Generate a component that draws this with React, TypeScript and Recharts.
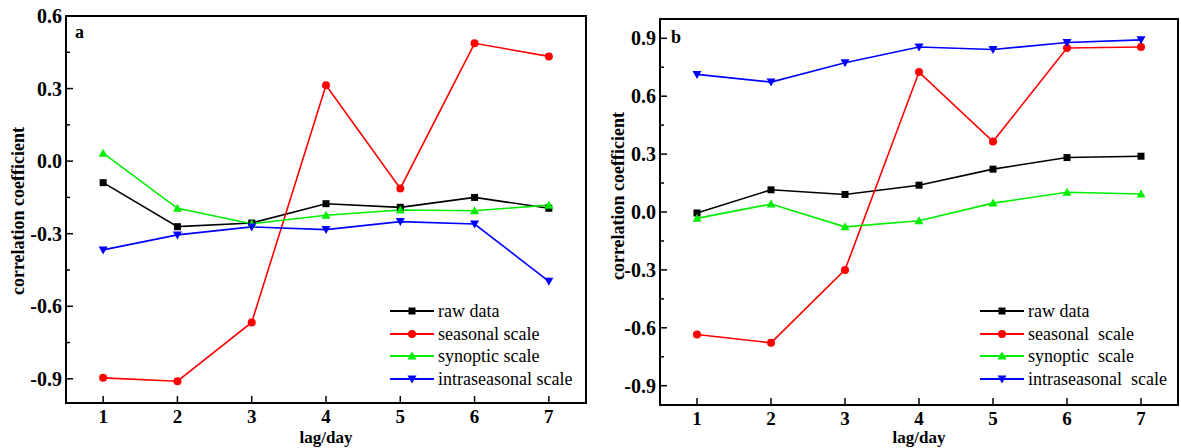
import { LineChart, Line, XAxis, YAxis, ReferenceArea, Legend } from 'recharts'

const FONT = "'Times New Roman', 'Liberation Serif', serif"

// lag in days
const lags = [1, 2, 3, 4, 5, 6, 7]

// panel a
const rawA = [-0.089, -0.271, -0.256, -0.176, -0.191, -0.15, -0.195]
const seasonalA = [-0.896, -0.91, -0.667, 0.314, -0.113, 0.487, 0.433]
const synopticA = [0.033, -0.195, -0.259, -0.224, -0.202, -0.205, -0.182]
const intraA = [-0.367, -0.305, -0.272, -0.283, -0.25, -0.26, -0.497]

// panel b
const rawB = [-0.005, 0.115, 0.091, 0.139, 0.222, 0.282, 0.289]
const seasonalB = [-0.635, -0.678, -0.3, 0.725, 0.365, 0.85, 0.855]
const synopticB = [-0.033, 0.041, -0.077, -0.045, 0.046, 0.102, 0.093]
const intraB = [0.713, 0.673, 0.773, 0.855, 0.842, 0.878, 0.892]

// y ticks (labelled every 0.3, minor marks in between)
const yTicksA = [-0.9, -0.75, -0.6, -0.45, -0.3, -0.15, 0, 0.15, 0.3, 0.45, 0.6]
const yTicksB = [-0.9, -0.75, -0.6, -0.45, -0.3, -0.15, 0, 0.15, 0.3, 0.45, 0.6, 0.75, 0.9]

const namesA = ['raw data', 'seasonal scale', 'synoptic scale', 'intraseasonal scale']
const namesB = ['raw data', 'seasonal  scale', 'synoptic  scale', 'intraseasonal  scale']

const SERIES = [
    { key: 'raw', color: '#000000', shape: 'square' },
    { key: 'seasonal', color: '#ff0000', shape: 'circle' },
    { key: 'synoptic', color: '#00ee00', shape: 'up' },
    { key: 'intra', color: '#0000ff', shape: 'down' },
]

const buildRows = (raw: number[], seasonal: number[], synoptic: number[], intra: number[]) =>
    lags.map((lag, i) => ({ lag, raw: raw[i], seasonal: seasonal[i], synoptic: synoptic[i], intra: intra[i] }))

const isMajor = (v: number) => Math.abs(v / 0.3 - Math.round(v / 0.3)) < 1e-6

function Marker({ shape, cx, cy, color }: { shape: string; cx: number; cy: number; color: string }) {
    if (shape === 'square') return <rect x={cx - 3.5} y={cy - 3.5} width={7} height={7} fill={color} />
    if (shape === 'circle') return <circle cx={cx} cy={cy} r={4} fill={color} />
    if (shape === 'up') return <polygon points={`${cx},${cy - 4.5} ${cx + 4.5},${cy + 3.5} ${cx - 4.5},${cy + 3.5}`} fill={color} />
    return <polygon points={`${cx},${cy + 4.5} ${cx + 4.5},${cy - 3.5} ${cx - 4.5},${cy - 3.5}`} fill={color} />
}

function YTick(props: any) {
    const { x, y, payload } = props
    const v = payload.value
    const major = isMajor(v)
    return (
        <g>
            <line x1={x} x2={x + (major ? 7 : 4)} y1={y} y2={y} stroke="#000" strokeWidth={1.5} />
            {major && (
                <text x={x - 4} y={y} dy={7} textAnchor="end" fontFamily={FONT} fontWeight="bold" fontSize={20} fill="#000">
                    {v.toFixed(1)}
                </text>
            )}
        </g>
    )
}

function XTick(props: any) {
    const { x, y, payload } = props
    return (
        <g>
            <line x1={x} x2={x} y1={y} y2={y - 7} stroke="#000" strokeWidth={1.5} />
            <text x={x} y={y + 20} textAnchor="middle" fontFamily={FONT} fontWeight="bold" fontSize={19} fill="#000">
                {payload.value}
            </text>
        </g>
    )
}

function LegendBox({ names }: { names: string[] }) {
    return (
        <div style={{ fontFamily: FONT, fontSize: 18, color: '#000' }}>
            {SERIES.map((s, i) => (
                <div key={s.key} style={{ display: 'flex', alignItems: 'center', height: 22.5 }}>
                    <svg width={44} height={12} style={{ marginRight: 4 }}>
                        <line x1={0} x2={44} y1={6} y2={6} stroke={s.color} strokeWidth={2} />
                        <Marker shape={s.shape} cx={22} cy={6} color={s.color} />
                    </svg>
                    <span style={{ whiteSpace: 'pre', lineHeight: '18px' }}>{names[i]}</span>
                </div>
            ))}
        </div>
    )
}

interface PanelProps {
    rows: any[]
    yDomain: [number, number]
    yTicks: number[]
    names: string[]
    letter: string
    left: number
    width: number
    yAxisWidth: number
    xAxisHeight: number
    marginTop: number
    marginRight: number
    legendLeft: number
    titleCenterY: number
    letterOffset: number
}

function Panel(p: PanelProps) {
    return (
        <div style={{ position: 'absolute', left: p.left, top: 0 }}>
            <LineChart
                width={p.width}
                height={448}
                data={p.rows}
                margin={{ top: p.marginTop, right: p.marginRight, bottom: 0, left: 0 }}
            >
                <XAxis
                    dataKey="lag"
                    type="number"
                    domain={[0.5, 7.5]}
                    ticks={lags}
                    interval={0}
                    height={p.xAxisHeight}
                    axisLine={false}
                    tickLine={false}
                    tickSize={0}
                    tickMargin={0}
                    tick={<XTick />}
                    label={{
                        content: (lp: any) => {
                            const vb = lp.viewBox
                            return (
                                <text
                                    x={vb.x + vb.width / 2}
                                    y={vb.y + vb.height - 5}
                                    textAnchor="middle"
                                    fontFamily={FONT}
                                    fontWeight="bold"
                                    fontSize={17}
                                    fill="#000"
                                >
                                    lag/day
                                </text>
                            )
                        },
                    }}
                />
                <YAxis
                    type="number"
                    domain={p.yDomain}
                    ticks={p.yTicks}
                    interval={0}
                    width={p.yAxisWidth}
                    axisLine={false}
                    tickLine={false}
                    tickSize={0}
                    tickMargin={0}
                    tick={<YTick />}
                    label={{
                        content: (lp: any) => {
                            const vb = lp.viewBox
                            const cx = vb.x + 18
                            return (
                                <text
                                    x={cx}
                                    y={p.titleCenterY}
                                    transform={`rotate(-90 ${cx} ${p.titleCenterY})`}
                                    textAnchor="middle"
                                    dominantBaseline="central"
                                    fontFamily={FONT}
                                    fontWeight="bold"
                                    fontSize={18}
                                    fill="#000"
                                >
                                    correlation coefficient
                                </text>
                            )
                        },
                    }}
                />
                <ReferenceArea
                    x1={0.5}
                    x2={7.5}
                    y1={p.yDomain[0]}
                    y2={p.yDomain[1]}
                    fill="none"
                    stroke="#000"
                    strokeWidth={2}
                    label={{
                        value: p.letter,
                        position: 'insideTopLeft',
                        offset: p.letterOffset,
                        fontFamily: FONT,
                        fontWeight: 'bold',
                        fontSize: 18,
                        fill: '#000',
                    }}
                />
                {SERIES.map((s) => (
                    <Line
                        key={s.key}
                        dataKey={s.key}
                        type="linear"
                        stroke={s.color}
                        strokeWidth={1.6}
                        isAnimationActive={false}
                        activeDot={false}
                        dot={(dp: any) => (
                            <Marker key={`${s.key}-${dp.index}`} shape={s.shape} cx={dp.cx} cy={dp.cy} color={s.color} />
                        )}
                    />
                ))}
                <Legend
                    layout="vertical"
                    align="center"
                    verticalAlign="middle"
                    wrapperStyle={{ left: p.legendLeft, top: 300, width: 'auto' }}
                    content={() => <LegendBox names={p.names} />}
                />
            </LineChart>
        </div>
    )
}

export default function App() {
    const rowsA = buildRows(rawA, seasonalA, synopticA, intraA)
    const rowsB = buildRows(rawB, seasonalB, synopticB, intraB)

    return (
        <div style={{ position: 'absolute', left: 0, top: 0, width: 1181, height: 448, background: '#fff' }}>
            <Panel
                rows={rowsA}
                yDomain={[-1.0, 0.6]}
                yTicks={yTicksA}
                names={namesA}
                letter="a"
                left={0}
                width={600}
                yAxisWidth={66}
                xAxisHeight={45}
                marginTop={16}
                marginRight={14}
                legendLeft={390}
                titleCenterY={211}
                letterOffset={9}
            />
            <Panel
                rows={rowsB}
                yDomain={[-1.0, 1.0]}
                yTicks={yTicksB}
                names={namesB}
                letter="b"
                left={600}
                width={581}
                yAxisWidth={60}
                xAxisHeight={43}
                marginTop={19}
                marginRight={3}
                legendLeft={380}
                titleCenterY={196}
                letterOffset={11}
            />
        </div>
    )
}
